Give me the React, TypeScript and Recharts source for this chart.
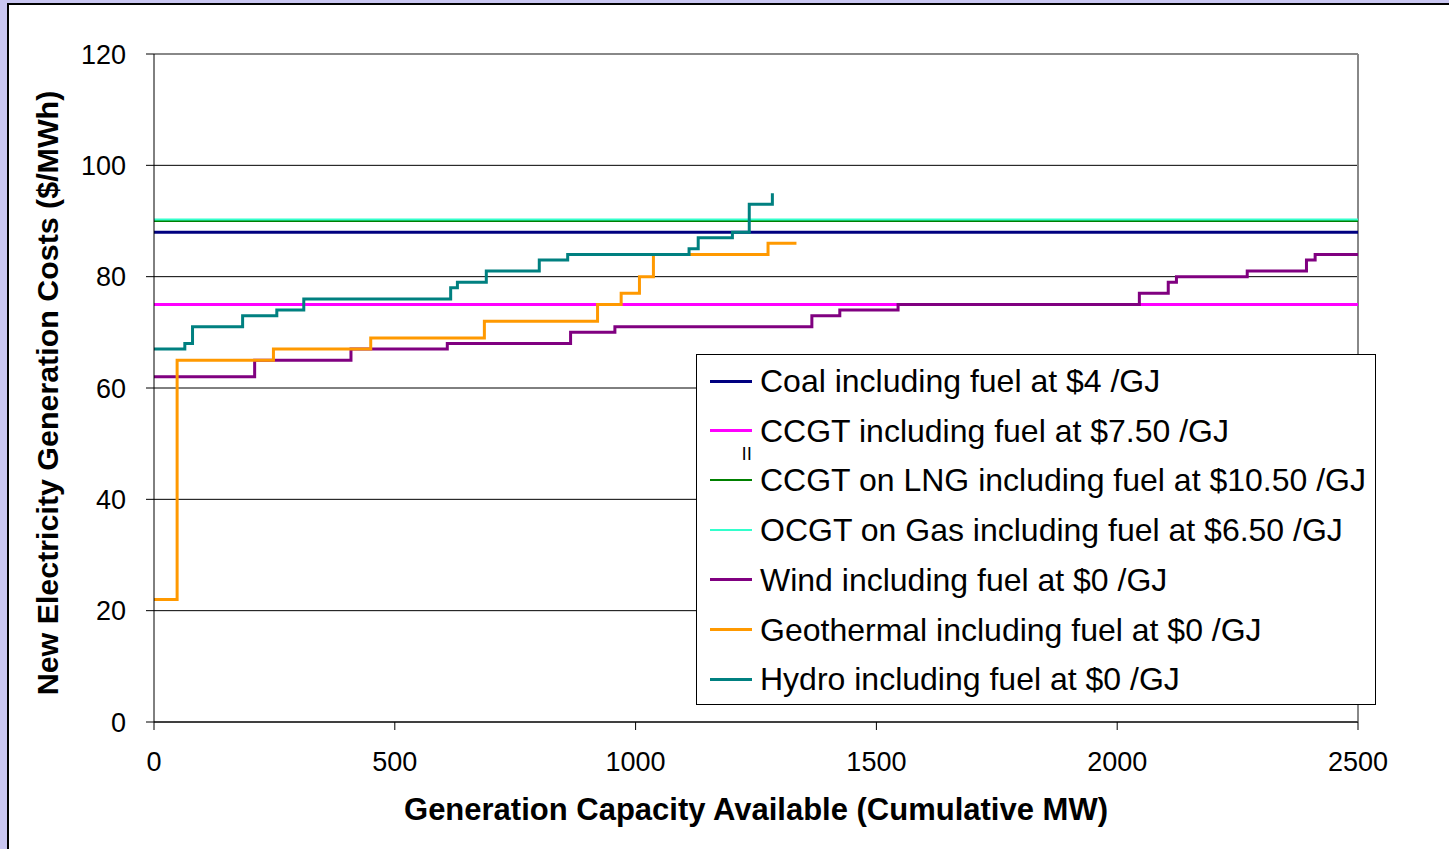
import React from "react";
import {
  LineChart,
  Line,
  XAxis,
  YAxis,
  CartesianGrid,
  ReferenceLine,
} from "recharts";

/* Axis ticks */
const xTicks = [0, 500, 1000, 1500, 2000, 2500];
const yTicks = [0, 20, 40, 60, 80, 100, 120];

/* Flat cost lines ($/MWh) across the full capacity range */
const flatMW = [0, 2500];
const coalCost = 88;
const ccgtCost = 75;
const lngCost = 90;
const ocgtCost = 90.25;

/* Supply steps: cumulative MW where each step starts, and its cost */
const windMW = [0, 209, 409, 609, 865, 957, 1366, 1424, 1545, 2046, 2106, 2123, 2270, 2393, 2411, 2500];
const windCost = [62, 65, 67, 68, 70, 71, 73, 74, 75, 77, 79, 80, 81, 83, 84, 84];

const geoMW = [0, 48, 248, 450, 686, 921, 970, 1008, 1037, 1275, 1334];
const geoCost = [22, 65, 67, 69, 72, 75, 77, 80, 84, 86, 86];

const hydroMW = [0, 64, 80, 184, 255, 311, 616, 630, 690, 800, 859, 1111, 1130, 1201, 1236, 1284];
const hydroCost = [67, 68, 71, 73, 74, 76, 78, 79, 81, 83, 84, 85, 87, 88, 93, 95];

const zip = (xs: number[], ys: number[]) => xs.map((x, i) => ({ x, y: ys[i] }));
const flat = (v: number) => flatMW.map((x) => ({ x, y: v }));

const series = [
  { name: "Coal including fuel at $4 /GJ", color: "#000080", width: 3, data: flat(coalCost), type: "linear" },
  { name: "CCGT including fuel at $7.50 /GJ", color: "#ff00ff", width: 3, data: flat(ccgtCost), type: "linear" },
  { name: "CCGT on LNG including fuel at $10.50 /GJ", color: "#008000", width: 2, data: flat(lngCost), type: "linear" },
  { name: "OCGT on Gas including fuel at $6.50 /GJ", color: "#33ffcc", width: 2, data: flat(ocgtCost), type: "linear" },
  { name: "Wind including fuel at $0 /GJ", color: "#800080", width: 3, data: zip(windMW, windCost), type: "stepAfter" },
  { name: "Geothermal including fuel at $0 /GJ", color: "#ff9900", width: 3, data: zip(geoMW, geoCost), type: "stepAfter" },
  { name: "Hydro including fuel at $0 /GJ", color: "#008080", width: 3, data: zip(hydroMW, hydroCost), type: "stepAfter" },
];

const font = "'Liberation Sans', Arial, sans-serif";
const tick = { fontSize: 27, fill: "#000", fontFamily: font };

function LegendBox() {
  return (
    <div
      style={{
        position: "absolute",
        left: 696,
        top: 354,
        width: 680,
        height: 351,
        boxSizing: "border-box",
        border: "1px solid #000",
        background: "#fff",
        fontFamily: font,
      }}
    >
      {series.map((s, i) => (
        <div
          key={s.name}
          style={{ position: "absolute", left: 0, top: 1 + i * 49.7, height: 50, width: "100%" }}
        >
          <span
            style={{
              position: "absolute",
              left: 13,
              top: 25 - s.width / 2,
              width: 42,
              height: s.width,
              background: s.color,
            }}
          />
          <span
            style={{
              position: "absolute",
              left: 63,
              top: 0,
              fontSize: 32,
              lineHeight: "50px",
              whiteSpace: "nowrap",
              color: "#000",
            }}
          >
            {s.name}
          </span>
        </div>
      ))}
      {/* stray glyph under the CCGT key */}
      <span
        style={{
          position: "absolute",
          left: 45,
          top: 89,
          fontSize: 19,
          lineHeight: "19px",
          color: "#000",
          letterSpacing: 1,
        }}
      >
        ll
      </span>
    </div>
  );
}

export default function App() {
  return (
    <div
      style={{
        position: "fixed",
        left: 0,
        top: 0,
        width: 1449,
        height: 849,
        background: "#c9c6f1",
        overflow: "hidden",
      }}
    >
      <div
        style={{
          position: "absolute",
          left: 7,
          top: 3,
          right: 0,
          bottom: 0,
          background: "#fff",
          borderLeft: "2px solid #000",
          borderTop: "2px solid #000",
        }}
      />
      <div style={{ position: "absolute", left: 0, top: 0 }}>
        <LineChart
          width={1449}
          height={849}
          margin={{ top: 54, right: 91, bottom: 67, left: 74 }}
        >
          <CartesianGrid vertical={false} stroke="#000" strokeWidth={1} />
          <XAxis
            type="number"
            dataKey="x"
            domain={[0, 2500]}
            ticks={xTicks}
            tick={tick}
            tickSize={8}
            tickMargin={22}
            height={60}
            axisLine={{ stroke: "#000" }}
            tickLine={{ stroke: "#000" }}
            allowDataOverflow
          />
          <YAxis
            type="number"
            domain={[0, 120]}
            ticks={yTicks}
            tick={tick}
            tickSize={8}
            tickMargin={20}
            width={80}
            axisLine={{ stroke: "#000" }}
            tickLine={{ stroke: "#000" }}
          />
          <ReferenceLine y={120} stroke="#888" strokeWidth={2} />
          <ReferenceLine x={2500} stroke="#888" strokeWidth={2} />
          {series.map((s) => (
            <Line
              key={s.name}
              data={s.data}
              dataKey="y"
              type={s.type as any}
              stroke={s.color}
              strokeWidth={s.width}
              dot={false}
              activeDot={false}
              isAnimationActive={false}
            />
          ))}
        </LineChart>
      </div>
      <div
        style={{
          position: "absolute",
          left: 154,
          top: 795,
          width: 1204,
          textAlign: "center",
          fontFamily: font,
          fontWeight: "bold",
          fontSize: 31,
          lineHeight: "30px",
          color: "#000",
          whiteSpace: "nowrap",
        }}
      >
        Generation Capacity Available (Cumulative MW)
      </div>
      <div
        style={{
          position: "absolute",
          left: 47 - 350,
          top: 393 - 17,
          width: 700,
          height: 34,
          transform: "rotate(-90deg)",
          textAlign: "center",
          fontFamily: font,
          fontWeight: "bold",
          fontSize: 30.4,
          lineHeight: "34px",
          color: "#000",
          whiteSpace: "nowrap",
        }}
      >
        New Electricity Generation Costs ($/MWh)
      </div>
      <LegendBox />
    </div>
  );
}
